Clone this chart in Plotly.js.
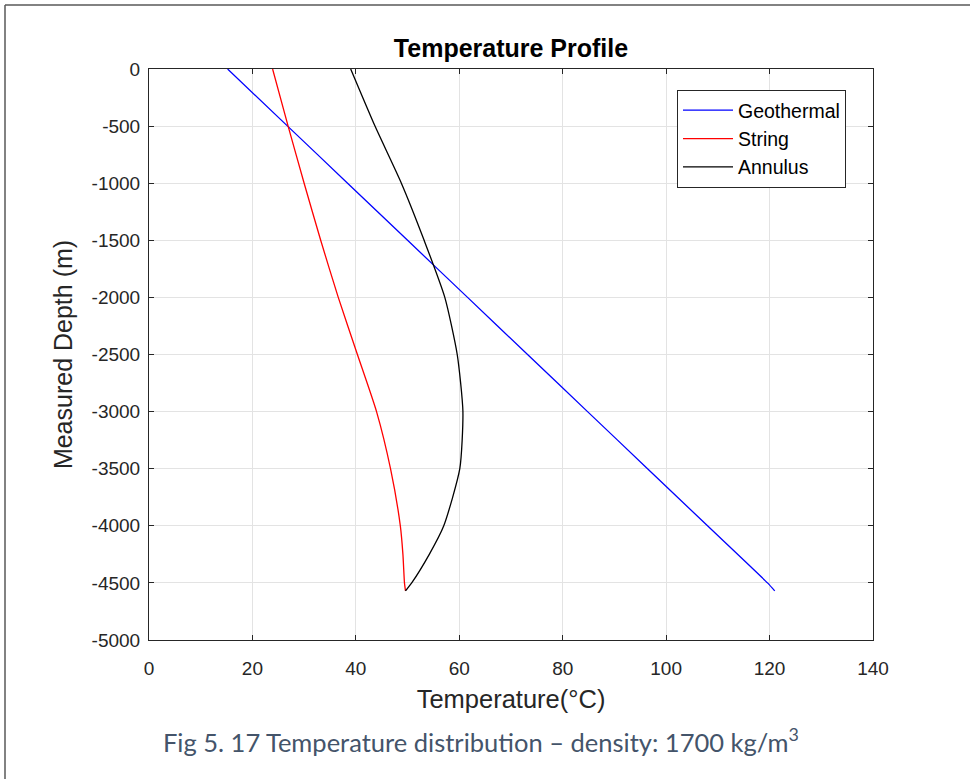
<!DOCTYPE html>
<html>
<head>
<meta charset="utf-8">
<script src="https://cdn.plot.ly/plotly-3.0.1.min.js"></script>
<style>
html,body{margin:0;padding:0;background:#fff;}
#chart{width:970px;height:779px;}
</style>
</head>
<body>
<div id="chart"></div>
<script>
// Depths (m) and temperatures (°C)
const depthGeo = [0, -500, -1000, -1500, -2000, -2500, -3000, -3500, -4000, -4500, -4570];
const tempGeo  = [15.2, 26.8, 38.4, 50.0, 61.6, 73.2, 84.8, 96.4, 108.0, 119.6, 121.0];

const depthString = [0, -500, -1000, -1500, -2000, -2500, -3000, -3500, -4000, -4250, -4500, -4570];
const tempString  = [23.9, 26.9, 30.0, 33.2, 36.6, 40.3, 44.0, 46.7, 48.6, 49.1, 49.4, 49.6];

const depthAnnulus = [0, -500, -1000, -1500, -2000, -2500, -3000, -3500, -4000, -4250, -4500, -4570];
const tempAnnulus  = [39.0, 43.7, 48.8, 53.2, 57.2, 59.6, 60.7, 60.1, 57.0, 54.2, 50.8, 49.6];

const xTicks = [0, 20, 40, 60, 80, 100, 120, 140];
const yTicks = [0, -500, -1000, -1500, -2000, -2500, -3000, -3500, -4000, -4500, -5000];

const seriesNames = ['Geothermal', 'String', 'Annulus'];
const seriesColors = ['#0000ff', '#ff0000', '#000000'];

const caption = 'Fig 5. 17 Temperature distribution \u2013 density: 1700 kg/m<sup>3</sup>';

const FONT = 'Liberation Sans';

const traces = [
  {x: tempGeo, y: depthGeo},
  {x: tempString, y: depthString},
  {x: tempAnnulus, y: depthAnnulus}
].map((t, i) => ({
  x: t.x, y: t.y, type: 'scatter', mode: 'lines', name: seriesNames[i],
  line: {color: seriesColors[i], width: 1.3, shape: 'spline', smoothing: 0.6}
}));

const axisCommon = {
  showline: true, linecolor: '#262626', linewidth: 1, mirror: 'ticks',
  ticks: 'inside', ticklen: 5, tickcolor: '#262626', tickwidth: 1,
  showgrid: true, gridcolor: '#e3e3e3', gridwidth: 1, zeroline: false,
  tickfont: {family: FONT, size: 19, color: '#262626'}
};

const L = 149, R = 873, T = 69, B = 640, W = 970, H = 779;
const px = v => (v - L) / (R - L);
const py = v => (B - v) / (B - T);

const layout = {
  width: W, height: H,
  margin: {l: L, r: W - R, t: T, b: H - B, pad: 0},
  paper_bgcolor: '#ffffff', plot_bgcolor: '#ffffff',
  title: {text: '<b>Temperature Profile</b>', x: 0.5, xref: 'paper', y: 1 - 48 / H, yanchor: 'middle',
          font: {family: FONT, size: 25, color: '#000000'}},
  xaxis: Object.assign({}, axisCommon, {
    range: [0, 140], tickvals: xTicks, ticktext: xTicks.map(String), ticklabelstandoff: 11,
    title: {text: 'Temperature(°C)', standoff: 12,
            font: {family: FONT, size: 25.5, color: '#262626'}}
  }),
  yaxis: Object.assign({}, axisCommon, {
    range: [-5000, 0], tickvals: yTicks, ticktext: yTicks.map(String), ticklabelstandoff: 4,
    title: {text: 'Measured Depth (m)', standoff: 11,
            font: {family: FONT, size: 25, color: '#262626'}}
  }),
  showlegend: true,
  legend: {x: px(677), y: py(90), xanchor: 'left', yanchor: 'top',
           bgcolor: '#ffffff', bordercolor: '#262626', borderwidth: 1,
           font: {family: FONT, size: 19.5, color: '#000000'},
           tracegroupgap: 0, itemwidth: 50},
  annotations: [{
    text: caption, xref: 'paper', yref: 'paper', x: px(481), y: py(740),
    xanchor: 'center', yanchor: 'middle', showarrow: false,
    font: {family: 'Lato', size: 25.5, color: '#44546a'}
  }],
  shapes: [
    {type: 'line', xref: 'paper', yref: 'paper', x0: px(5), x1: px(5), y0: py(790), y1: py(5),
     line: {color: '#595959', width: 1.5}},
    {type: 'line', xref: 'paper', yref: 'paper', x0: px(5), x1: px(980), y0: py(5), y1: py(5),
     line: {color: '#595959', width: 1.5}}
  ]
};

Plotly.newPlot('chart', traces, layout, {displayModeBar: false, staticPlot: true});
</script>
</body>
</html>
